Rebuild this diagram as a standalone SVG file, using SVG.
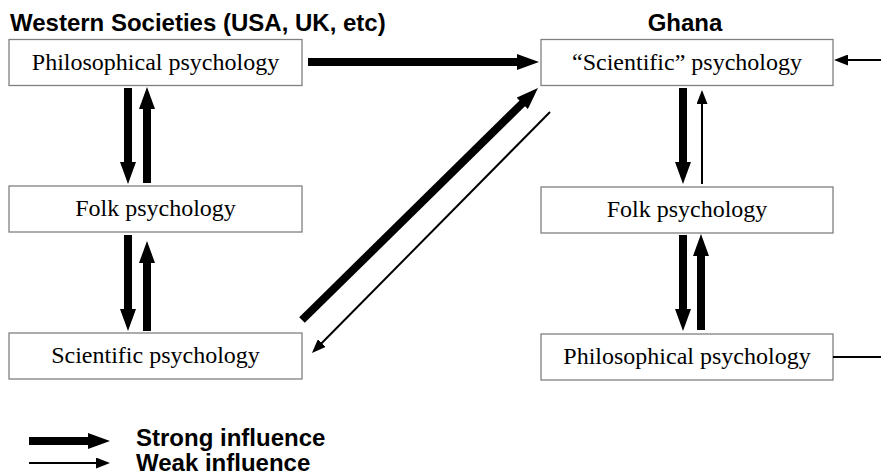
<svg xmlns="http://www.w3.org/2000/svg" width="881" height="476" viewBox="0 0 881 476">
<style>
.box{fill:#fff;stroke:#808080;stroke-width:1.3}
.lbl{font-family:"Liberation Serif","Times New Roman",serif;font-size:24px;fill:#000;text-anchor:middle}
.hdr{font-family:"Liberation Sans",Arial,sans-serif;font-size:24px;font-weight:bold;fill:#000}
.strong{stroke:#000;stroke-width:8;fill:none;marker-end:url(#headS)}
.weak{stroke:#000;stroke-width:2;fill:none;marker-end:url(#headW)}
.plain{stroke:#000;stroke-width:2;fill:none}
</style>
<defs>
<marker id="headS" markerUnits="userSpaceOnUse" viewBox="0 0 22 16" markerWidth="22" markerHeight="16" refX="2" refY="8" orient="auto">
<path d="M0,0 L22,8 L0,16 z" fill="#000"/>
</marker>
<marker id="headW" markerUnits="userSpaceOnUse" viewBox="0 0 14 11" markerWidth="14" markerHeight="11" refX="1" refY="5.5" orient="auto">
<path d="M0,0 L14,5.5 L0,11 z" fill="#000"/>
</marker>
</defs>
<rect width="881" height="476" fill="#fff"/>
<text class="hdr" x="10" y="31">Western Societies (USA, UK, etc)</text>
<text class="hdr" x="685" y="31" text-anchor="middle">Ghana</text>

<g id="w-philosophical"><rect class="box" x="9" y="39.5" width="293" height="46"/><text class="lbl" x="155.5" y="70">Philosophical psychology</text></g>
<g id="w-folk"><rect class="box" x="9" y="186" width="293" height="46"/><text class="lbl" x="155.5" y="216">Folk psychology</text></g>
<g id="w-scientific"><rect class="box" x="9" y="333" width="293" height="46"/><text class="lbl" x="155.5" y="363">Scientific psychology</text></g>
<g id="g-scientific"><rect class="box" x="541" y="39.5" width="292" height="46"/><text class="lbl" x="687" y="70">“Scientific” psychology</text></g>
<g id="g-folk"><rect class="box" x="541" y="187" width="292" height="46"/><text class="lbl" x="687" y="217">Folk psychology</text></g>
<g id="g-philosophical"><rect class="box" x="541" y="334" width="292" height="46"/><text class="lbl" x="687" y="364">Philosophical psychology</text></g>

<g id="connectors">
<line class="strong" x1="308" y1="62" x2="519" y2="62"/>
<line class="strong" x1="128" y1="88" x2="128" y2="164"/>
<line class="strong" x1="147" y1="183" x2="147" y2="107"/>
<line class="strong" x1="128" y1="235" x2="128" y2="311"/>
<line class="strong" x1="147" y1="331" x2="147" y2="261"/>
<line class="strong" x1="683" y1="88" x2="683" y2="164"/>
<line class="weak" x1="702" y1="184" x2="702" y2="103"/>
<line class="strong" x1="683" y1="235" x2="683" y2="311"/>
<line class="strong" x1="701" y1="330" x2="701" y2="254"/>
<line class="strong" x1="302" y1="320" x2="523.7" y2="102"/>
<line class="weak" x1="550" y1="112" x2="321.1" y2="343.8"/>
<line class="weak" x1="881" y1="60" x2="847" y2="60"/>
<line class="plain" x1="833" y1="357" x2="881" y2="357"/>
</g>

<g id="legend">
<line class="strong" x1="29" y1="441" x2="90" y2="441"/>
<line class="weak" x1="29" y1="463" x2="97" y2="463"/>
<text class="hdr" x="136" y="446">Strong influence</text>
<text class="hdr" x="136" y="471">Weak influence</text>
</g>
</svg>
